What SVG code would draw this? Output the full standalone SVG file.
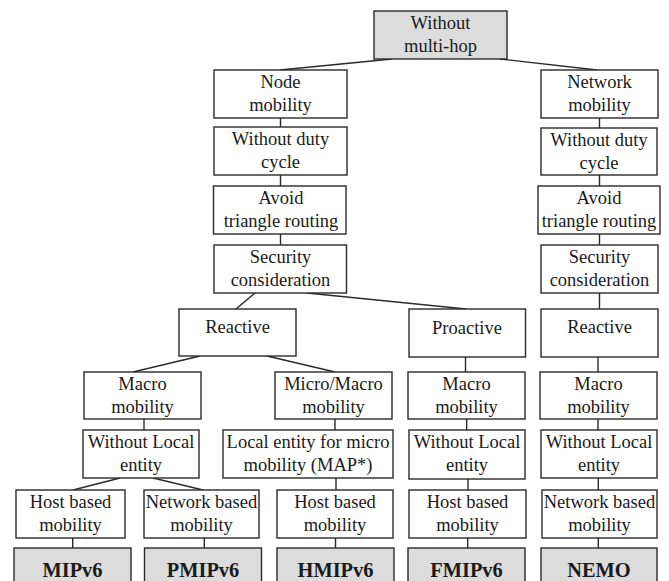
<svg xmlns="http://www.w3.org/2000/svg" width="669" height="581" viewBox="0 0 669 581">
<style>
.b{fill:#fff;stroke:#2a2a2a;stroke-width:1.4}
.g{fill:#dcdcdc;stroke:#2a2a2a;stroke-width:1.4}
.t{font-family:"Liberation Serif","Times New Roman",serif;font-size:18.5px;fill:#1a1a1a;text-anchor:middle}
.k{font-family:"Liberation Serif","Times New Roman",serif;font-size:20.4px;font-weight:bold;fill:#1a1a1a;text-anchor:middle}
.c line{stroke:#2a2a2a;stroke-width:1.4}
</style>
<rect width="669" height="581" fill="#fff"/>
<g class="c" id="connectors">
<line x1="392" y1="59" x2="280" y2="70"/>
<line x1="500" y1="59" x2="597" y2="70"/>
<line x1="280.5" y1="118" x2="280.5" y2="127"/>
<line x1="280.5" y1="175" x2="280.5" y2="186"/>
<line x1="280.5" y1="234" x2="280.5" y2="245"/>
<line x1="255" y1="293" x2="236" y2="309"/>
<line x1="307" y1="293" x2="466" y2="309"/>
<line x1="200" y1="356" x2="133" y2="372"/>
<line x1="267" y1="356" x2="335" y2="372"/>
<line x1="144" y1="419" x2="144" y2="430"/>
<line x1="335" y1="419" x2="335" y2="430"/>
<line x1="120" y1="478" x2="73" y2="490"/>
<line x1="153" y1="478" x2="203" y2="490"/>
<line x1="336" y1="478" x2="336" y2="490"/>
<line x1="72.7" y1="538" x2="72.7" y2="548"/>
<line x1="204.3" y1="538" x2="204.3" y2="548"/>
<line x1="335.5" y1="538" x2="335.5" y2="548"/>
<line x1="465.5" y1="357" x2="465.5" y2="372"/>
<line x1="466.7" y1="419" x2="466.7" y2="430"/>
<line x1="468" y1="479" x2="468" y2="490"/>
<line x1="467.7" y1="538" x2="467.7" y2="548"/>
<line x1="599.5" y1="118" x2="599.5" y2="128"/>
<line x1="599.5" y1="175" x2="599.5" y2="186"/>
<line x1="599.5" y1="234" x2="599.5" y2="245"/>
<line x1="599.5" y1="293" x2="599.5" y2="309"/>
<line x1="598" y1="357" x2="598" y2="372"/>
<line x1="598" y1="419" x2="598" y2="430"/>
<line x1="598.3" y1="478" x2="598.3" y2="490"/>
<line x1="598.3" y1="538" x2="598.3" y2="548"/>
</g>
<g id="n-top"><rect class="g" x="374" y="11" width="133" height="48"/><text class="t" x="440.5" y="29">Without</text><text class="t" x="440.5" y="52">multi-hop</text></g>
<g id="n-node"><rect class="b" x="214" y="70" width="133" height="48"/><text class="t" x="280.5" y="88">Node</text><text class="t" x="280.5" y="111">mobility</text></g>
<g id="n-duty-l"><rect class="b" x="214" y="127" width="133" height="48"/><text class="t" x="280.5" y="145">Without duty</text><text class="t" x="280.5" y="168">cycle</text></g>
<g id="n-avoid-l"><rect class="b" x="213.5" y="186" width="132.5" height="48"/><text class="t" x="281" y="204">Avoid</text><text class="t" x="281" y="227">triangle routing</text></g>
<g id="n-sec-l"><rect class="b" x="214" y="245" width="132.5" height="48"/><text class="t" x="280.5" y="263">Security</text><text class="t" x="280.5" y="286">consideration</text></g>
<g id="n-react-l"><rect class="b" x="179" y="309" width="117" height="47"/><text class="t" x="237.5" y="333">Reactive</text></g>
<g id="n-proact"><rect class="b" x="409" y="309" width="116.5" height="48"/><text class="t" x="467" y="334">Proactive</text></g>
<g id="n-netmob"><rect class="b" x="541" y="70" width="117" height="48"/><text class="t" x="599.5" y="88">Network</text><text class="t" x="599.5" y="111">mobility</text></g>
<g id="n-duty-r"><rect class="b" x="541" y="128" width="116" height="47"/><text class="t" x="599" y="146">Without duty</text><text class="t" x="599" y="169">cycle</text></g>
<g id="n-avoid-r"><rect class="b" x="538" y="186" width="122" height="48"/><text class="t" x="599" y="204">Avoid</text><text class="t" x="599" y="227">triangle routing</text></g>
<g id="n-sec-r"><rect class="b" x="541" y="245" width="117" height="48"/><text class="t" x="599.5" y="263">Security</text><text class="t" x="599.5" y="286">consideration</text></g>
<g id="n-react-r"><rect class="b" x="541" y="309" width="117" height="48"/><text class="t" x="599.5" y="333">Reactive</text></g>
<g id="n-macro-1"><rect class="b" x="84" y="372" width="117" height="47"/><text class="t" x="142.5" y="390">Macro</text><text class="t" x="142.5" y="413">mobility</text></g>
<g id="n-micro"><rect class="b" x="275" y="372" width="117" height="47"/><text class="t" x="333.5" y="390">Micro/Macro</text><text class="t" x="333.5" y="413">mobility</text></g>
<g id="n-macro-2"><rect class="b" x="408" y="372" width="117" height="47"/><text class="t" x="466.5" y="390">Macro</text><text class="t" x="466.5" y="413">mobility</text></g>
<g id="n-macro-3"><rect class="b" x="540" y="372" width="117" height="47"/><text class="t" x="598.5" y="390">Macro</text><text class="t" x="598.5" y="413">mobility</text></g>
<g id="n-wl-1"><rect class="b" x="83" y="430" width="116" height="48"/><text class="t" x="141" y="448">Without Local</text><text class="t" x="141" y="471">entity</text></g>
<g id="n-local"><rect class="b" x="223" y="430" width="170" height="48"/><text class="t" x="308" y="448">Local entity for micro</text><text class="t" x="308" y="471">mobility (MAP*)</text></g>
<g id="n-wl-2"><rect class="b" x="409" y="430" width="116" height="49"/><text class="t" x="467" y="448">Without Local</text><text class="t" x="467" y="471">entity</text></g>
<g id="n-wl-3"><rect class="b" x="541" y="430" width="116" height="48"/><text class="t" x="599" y="448">Without Local</text><text class="t" x="599" y="471">entity</text></g>
<g id="n-host-1"><rect class="b" x="16" y="490" width="109" height="48"/><text class="t" x="70.5" y="508">Host based</text><text class="t" x="70.5" y="531">mobility</text></g>
<g id="n-netb-1"><rect class="b" x="144" y="490" width="115" height="48"/><text class="t" x="201.5" y="508">Network based</text><text class="t" x="201.5" y="531">mobility</text></g>
<g id="n-host-2"><rect class="b" x="277" y="490" width="116" height="48"/><text class="t" x="335" y="508">Host based</text><text class="t" x="335" y="531">mobility</text></g>
<g id="n-host-3"><rect class="b" x="409" y="490" width="117" height="48"/><text class="t" x="467.5" y="508">Host based</text><text class="t" x="467.5" y="531">mobility</text></g>
<g id="n-netb-2"><rect class="b" x="542" y="490" width="115" height="48"/><text class="t" x="599.5" y="508">Network based</text><text class="t" x="599.5" y="531">mobility</text></g>
<g id="n-mipv6"><rect class="g" x="14" y="548" width="117" height="45"/><text class="k" x="72.5" y="576.5">MIPv6</text></g>
<g id="n-pmipv6"><rect class="g" x="144.5" y="548" width="117" height="45"/><text class="k" x="203" y="576.5">PMIPv6</text></g>
<g id="n-hmipv6"><rect class="g" x="277" y="548" width="117" height="45"/><text class="k" x="335.5" y="576.5">HMIPv6</text></g>
<g id="n-fmipv6"><rect class="g" x="408" y="548" width="117" height="45"/><text class="k" x="466.5" y="576.5">FMIPv6</text></g>
<g id="n-nemo"><rect class="g" x="541" y="548" width="116" height="45"/><text class="k" x="599" y="576.5">NEMO</text></g>
</svg>
